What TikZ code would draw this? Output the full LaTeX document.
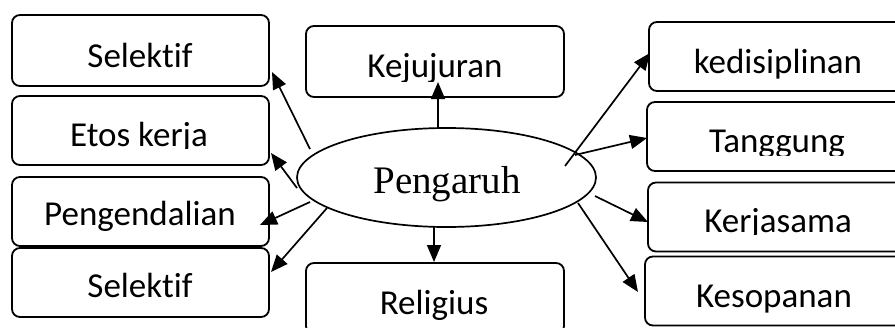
\documentclass[tikz,border=0pt]{standalone}
\usepackage{fontspec}
\setmainfont{Liberation Serif}
\newfontfamily\carlito[Ligatures=NoCommon]{Carlito}
\usetikzlibrary{arrows.meta,shapes.geometric}
\tikzset{
  box/.style={draw, line width=1.8pt, rounded corners=8pt, inner sep=0pt, minimum height=69pt, minimum width=258pt},
  txt/.style={font=\carlito\fontsize{35}{40}\selectfont, inner sep=0pt, anchor=base},
  arr/.style={line width=1.7pt, -{Triangle[length=17pt,width=14pt]}},
  hub/.style={draw, ellipse, line width=1.7pt, minimum width=299pt, minimum height=99pt, inner sep=0pt}
}
\newcommand\boxlbl[5]{%
  \begin{scope}
    \clip (#2-170,#3-55) rectangle (#2+170,#3+#5);
    \node[txt] (#1) at (#2,#3) {#4};
  \end{scope}}
\begin{document}
\begin{tikzpicture}[x=1pt,y=-1pt]
\useasboundingbox (0,0) rectangle (895,327);
\clip (0,0) rectangle (895,327);
% left column
\node[box, minimum width=257pt, minimum height=71pt] (b1) at (140.5,50.5) {};
\node[box, minimum width=257pt] (b2) at (140.5,130.5) {};
\node[box, minimum width=257pt] (b3) at (140.5,211.5) {};
\node[box, minimum width=257pt] (b4) at (140.5,282.5) {};
\boxlbl{l1}{140}{67}{Selektif}{8}
\boxlbl{l2}{139}{146}{Etos kerja}{2}
\boxlbl{l3}{140}{225}{Pengendalian}{6}
\boxlbl{l4}{140}{297}{Selektif}{8}
% centre column
\node[box, minimum height=71pt] (bk) at (435,61.5) {};
\node[box, minimum height=71pt] (br) at (435,298.5) {};
\boxlbl{lk}{435}{77}{Kejujuran}{4}
\boxlbl{lr}{434}{314}{Religius}{8}
% right column
\node[box] (c1) at (778,56.5) {};
\node[box] (c2) at (776,136.5) {};
\node[box] (c3) at (777,217) {};
\node[box] (c4) at (774,291) {};
\boxlbl{m1}{778}{73}{kedisiplinan}{6}
\boxlbl{m2}{777}{152}{Tanggung}{3}
\boxlbl{m3}{778}{232}{Kerjasama}{2}
\boxlbl{m4}{774}{307}{Kesopanan}{6}
% hub
\node[hub] (P) at (446.5,177.5) {};
\node[font=\fontsize{39}{44}\selectfont, inner sep=0pt, anchor=base] (Pt) at (447,193) {Pengaruh};
% connector ends
\coordinate (s1) at (310,149); \coordinate (t1) at (272,72);
\coordinate (s2) at (297,188); \coordinate (t2) at (271,153);
\coordinate (s3) at (310,202); \coordinate (t3) at (260,225);
\coordinate (s4) at (327,208); \coordinate (t4) at (271,272);
\coordinate (sk) at (438,128); \coordinate (tk) at (438,82);
\coordinate (sr) at (434,227); \coordinate (tr) at (434,262);
\coordinate (u1) at (565,166); \coordinate (v1) at (650,53);
\coordinate (u2) at (575,155); \coordinate (v2) at (647,138);
\coordinate (u3) at (595,196); \coordinate (v3) at (648,222);
\coordinate (u4) at (578,203); \coordinate (v4) at (638,292);
\draw[arr] (s1) -- (t1);
\draw[arr] (s2) -- (t2);
\draw[arr] (s3) -- (t3);
\draw[arr] (s4) -- (t4);
\draw[arr] (sk) -- (tk);
\draw[arr] (sr) -- (tr);
\draw[arr] (u1) -- (v1);
\draw[arr] (u2) -- (v2);
\draw[arr] (u3) -- (v3);
\draw[arr] (u4) -- (v4);
\end{tikzpicture}
\end{document}
